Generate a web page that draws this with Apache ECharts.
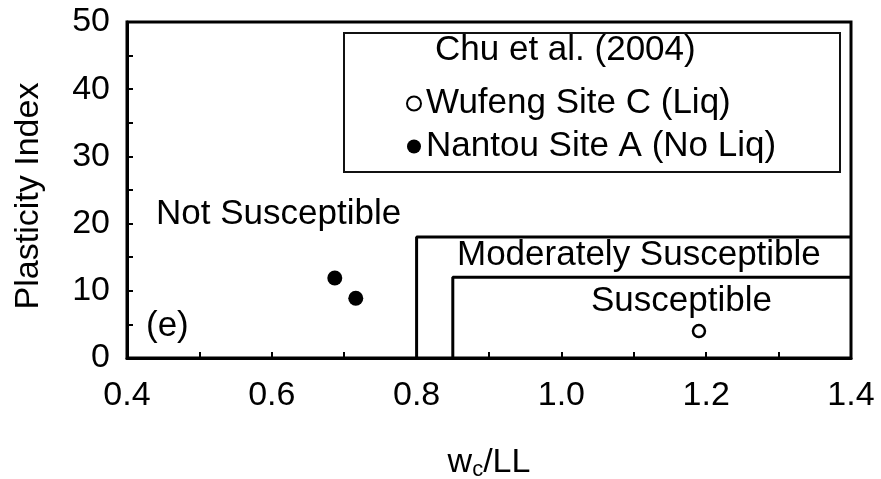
<!DOCTYPE html>
<html>
<head>
<meta charset="utf-8">
<title>Plasticity Index vs wc/LL</title>
<script src="https://cdn.jsdelivr.net/npm/echarts@6/dist/echarts.min.js"></script>
<style>
  html, body { margin: 0; padding: 0; background: #fff; }
  #chart { width: 881px; height: 479px; }
</style>
</head>
<body>
<div id="chart"></div>
<script>
// Chu et al. (2004) points
const wufengLiq = [[1.19, 4.0]];
const nantouNoLiq = [[0.687, 11.9], [0.716, 8.9]];

// criteria boundaries (wc/LL, PI)
const moderateBoundary = [[0.8, 0], [0.8, 18], [1.4, 18]];
const susceptibleBoundary = [[0.85, 0], [0.85, 12], [1.4, 12]];

const FONT = '"Liberation Sans", Arial, sans-serif';
const FS = 34;   // tick labels, axis names
const FT = 35;   // annotations, legend

const chart = echarts.init(document.getElementById('chart'));

const option = {
    animation: false,
    grid: {
        left: 127, right: 30, top: 22, bottom: 121,
        outerBoundsMode: 'none',
        show: true, borderColor: '#000', borderWidth: 3, backgroundColor: 'transparent'
    },
    legend: {
        orient: 'vertical',
        left: 406, top: 86,
        padding: 0,
        itemWidth: 14, itemHeight: 14, itemGap: 8,
        icon: 'circle',
        textStyle: { fontFamily: FONT, fontSize: FT, lineHeight: 35, color: '#000' },
        data: ['Wufeng Site C (Liq)', 'Nantou Site A (No Liq)'],
        selectedMode: false
    },
    xAxis: {
        type: 'value',
        min: 0.4, max: 1.4, interval: 0.1,
        name: '{a|w}{b|c}{a|/LL}',
        nameLocation: 'middle',
        nameGap: 87,
        nameTextStyle: {
            rich: {
                a: { fontFamily: FONT, fontSize: FS, color: '#000' },
                b: { fontFamily: FONT, fontSize: 22, color: '#000', padding: [14, 0, 0, 0] }
            }
        },
        axisLine: { lineStyle: { color: '#000', width: 3 } },
        axisTick: { inside: true, length: 6, lineStyle: { color: '#000', width: 2 } },
        axisLabel: {
            margin: 21,
            fontFamily: FONT, fontSize: FS, color: '#000',
            formatter: v => (Math.round(v * 10) % 2 === 0 ? v.toFixed(1) : '')
        },
        splitLine: { show: false }
    },
    yAxis: {
        type: 'value',
        min: 0, max: 50, interval: 5,
        name: 'Plasticity Index',
        nameLocation: 'middle',
        nameGap: 81,
        nameTextStyle: { fontFamily: FONT, fontSize: FS, color: '#000', padding: [0, 12, 0, 0] },
        axisLine: { lineStyle: { color: '#000', width: 3 } },
        axisTick: { inside: true, length: 6, lineStyle: { color: '#000', width: 2 } },
        axisLabel: {
            margin: 17,
            fontFamily: FONT, fontSize: FS, color: '#000',
            formatter: v => (v % 10 === 0 ? String(v) : '')
        },
        splitLine: { show: false }
    },
    graphic: [
        {
            type: 'rect', left: 343, top: 32, z: 50,
            shape: { width: 496, height: 139 },
            style: { fill: 'transparent', stroke: '#111', lineWidth: 2 }
        },
        {
            type: 'text', left: 435, top: 33, z: 50,
            style: { text: 'Chu et al. (2004)', font: FT + 'px ' + FONT, fill: '#000' }
        },
        {
            type: 'text', left: 156, top: 197, z: 50,
            style: { text: 'Not Susceptible', font: FT + 'px ' + FONT, fill: '#000' }
        },
        {
            type: 'text', left: 457, top: 238, z: 50,
            style: { text: 'Moderately Susceptible', font: FT + 'px ' + FONT, fill: '#000' }
        },
        {
            type: 'text', left: 591, top: 284, z: 50,
            style: { text: 'Susceptible', font: FT + 'px ' + FONT, fill: '#000' }
        },
        {
            type: 'text', left: 146, top: 309, z: 50,
            style: { text: '(e)', font: FT + 'px ' + FONT, fill: '#000' }
        }
    ],
    series: [
        {
            type: 'line', data: moderateBoundary, symbol: 'none', silent: true,
            lineStyle: { color: '#000', width: 3 }
        },
        {
            type: 'line', data: susceptibleBoundary, symbol: 'none', silent: true,
            lineStyle: { color: '#000', width: 3 }
        },
        {
            name: 'Wufeng Site C (Liq)',
            type: 'scatter', data: wufengLiq, symbol: 'circle', symbolSize: 12,
            itemStyle: { color: '#fff', borderColor: '#000', borderWidth: 2.5, opacity: 1 }
        },
        {
            name: 'Nantou Site A (No Liq)',
            type: 'scatter', data: nantouNoLiq, symbol: 'circle', symbolSize: 15,
            itemStyle: { color: '#000', opacity: 1 }
        }
    ]
};

chart.setOption(option);
window.addEventListener('resize', () => chart.resize());
</script>
</body>
</html>
